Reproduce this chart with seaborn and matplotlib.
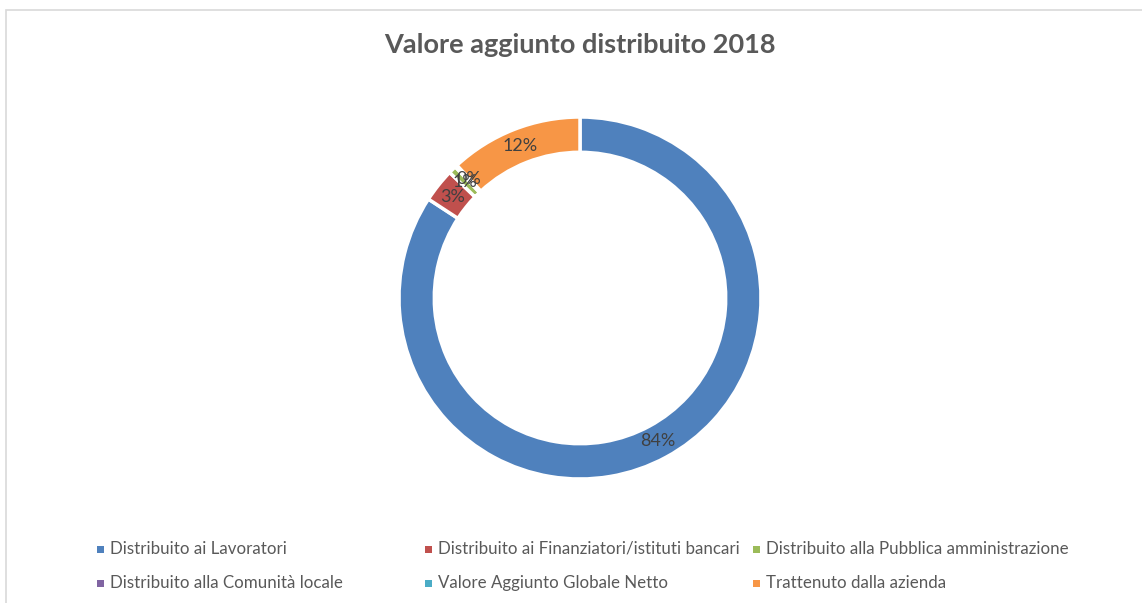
import matplotlib
matplotlib.use("Agg")
import matplotlib.pyplot as plt
import matplotlib.patches as mpatches
import seaborn as sns

sns.set_style("white")
plt.rcParams['font.family'] = ['Lato', 'DejaVu Sans']

categories = ["Distribuito ai Lavoratori",
              "Distribuito ai Finanziatori/istituti bancari",
              "Distribuito alla Pubblica amministrazione",
              "Distribuito alla Comunità locale",
              "Valore Aggiunto Globale Netto",
              "Trattenuto dalla azienda"]
values = [84.2, 3.0, 0.7, 0.2, 0.0, 11.9]
colors = ["#4F81BD", "#C0504D", "#9BBB59", "#8064A2", "#4BACC6", "#F79646"]

W, H = 1142, 603
fig = plt.figure(figsize=(W / 100, H / 100), dpi=100)

# chart area border (cropped on the right/bottom)
fig.patches.append(mpatches.Rectangle((6 / W, -0.05), 1.1, (H - 10) / H + 0.05,
                                      transform=fig.transFigure, fill=False,
                                      edgecolor="#D9D9D9", linewidth=1.2))

# donut: centre (580, 298), outer radius 181 px
cx, cy, r = 580, 298, 181
lim = 1.1
ax = fig.add_axes([(cx - r * lim) / W, (H - cy - r * lim) / H, 2 * r * lim / W, 2 * r * lim / H])


def pct(p):
    return "" if p == 0 else f"{p:.0f}%"


wedges, texts, autotexts = ax.pie(values, colors=colors, startangle=90, counterclock=False,
                                  autopct=pct, pctdistance=0.9,
                                  wedgeprops=dict(width=0.195, edgecolor="white", linewidth=2.5),
                                  textprops=dict(color="#404040", fontsize=13))
ax.set_xlim(-lim, lim)
ax.set_ylim(-lim, lim)
ax.set_aspect("equal")
ax.axis("off")

fig.text(cx / W, 1 - 45 / H, "Valore aggiunto distribuito 2018", ha="center", va="center",
         fontsize=19.5, fontweight="bold", color="#595959")

# legend, Excel style with equal column widths
col_x = [100, 428, 756]
row_y = [549, 583]
for i, (lab, c) in enumerate(zip(categories, colors)):
    x = col_x[i % 3]
    y = row_y[i // 3]
    fig.patches.append(mpatches.Rectangle(((x - 3.5) / W, 1 - (y + 3.5) / H), 7 / W, 7 / H,
                                          transform=fig.transFigure, facecolor=c,
                                          edgecolor="none"))
    fig.text((x + 10) / W, 1 - y / H, lab, ha="left", va="center", fontsize=12.2,
             color="#595959")

fig.savefig("out.png", dpi=100)
